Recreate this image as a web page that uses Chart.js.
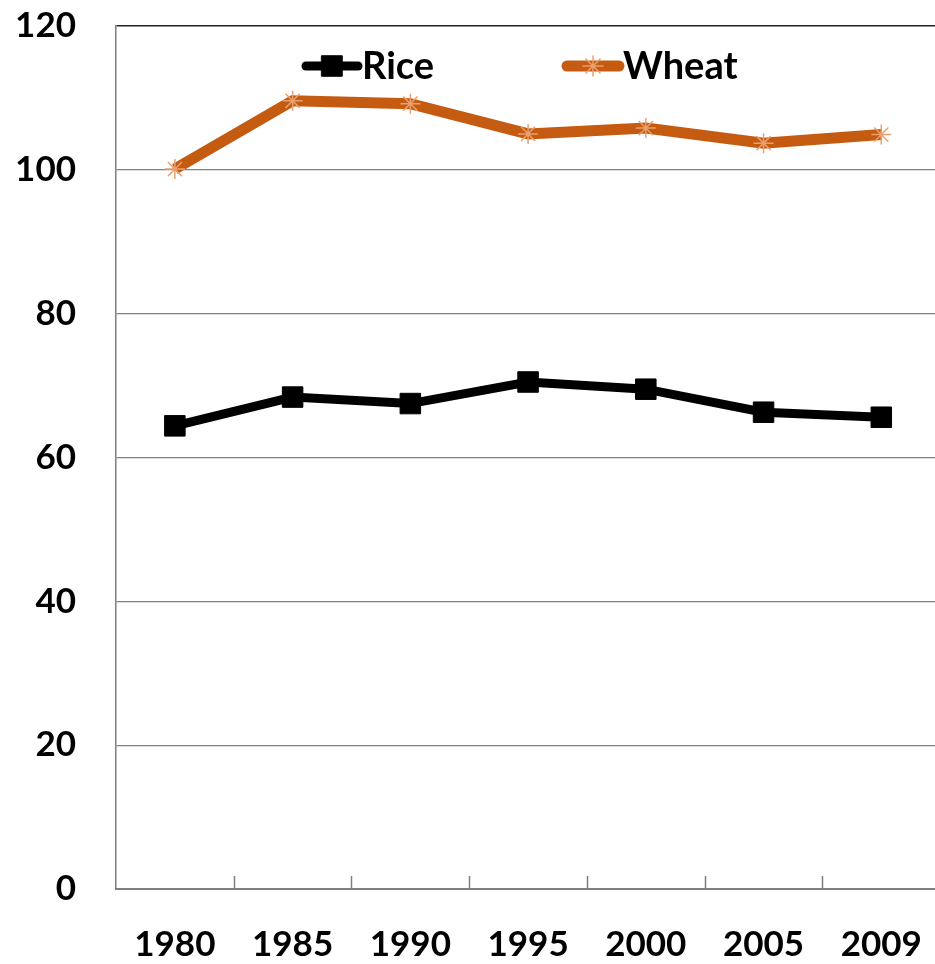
<!DOCTYPE html>
<html>
<head>
<meta charset="utf-8">
<script src="https://cdn.jsdelivr.net/npm/chart.js@4/dist/chart.umd.min.js"></script>
<style>
  html, body { margin: 0; padding: 0; background: #fff; overflow: hidden; }
  #wrap { width: 958px; height: 964px; }
</style>
</head>
<body>
<div id="wrap"><canvas id="chart" width="958" height="964"></canvas></div>
<script>
const years = ['1980', '1985', '1990', '1995', '2000', '2005', '2009'];
const rice = [64.4, 68.4, 67.5, 70.5, 69.5, 66.3, 65.6];
const wheat = [100.1, 109.6, 109.2, 105.0, 105.8, 103.7, 104.9];
const yTicks = [0, 20, 40, 60, 80, 100, 120];

const FONT = 'Lato, "DejaVu Sans", sans-serif';

// legend drawn inside the plot, at the top
const insideLegend = {
    id: 'insideLegend',
    afterDatasetsDraw(chart) {
        const ctx = chart.ctx;
        const spots = [{ x: 302, y: 66 }, { x: 563, y: 66 }];
        chart.data.datasets.forEach((ds, i) => {
            const s = spots[i];
            ctx.save();
            ctx.strokeStyle = ds.borderColor;
            ctx.lineWidth = ds.borderWidth;
            ctx.lineCap = 'round';
            ctx.beginPath();
            ctx.moveTo(s.x + 4, s.y);
            ctx.lineTo(s.x + 56, s.y);
            ctx.stroke();
            ctx.fillStyle = ds.pointBackgroundColor;
            ctx.strokeStyle = ds.pointBorderColor;
            ctx.lineWidth = ds.pointBorderWidth;
            Chart.helpers.drawPoint(ctx, { pointStyle: ds.pointStyle, radius: ds.pointRadius, rotation: 0, borderWidth: ds.pointBorderWidth }, s.x + 30, s.y);
            ctx.fillStyle = '#000';
            ctx.font = 'bold 38px ' + FONT;
            ctx.textAlign = 'left';
            ctx.textBaseline = 'middle';
            ctx.fillText(ds.label, s.x + 60, s.y + 1);
            ctx.restore();
        });
    }
};

// category ticks pointing up into the plot, like the original
const upTicks = {
    id: 'upTicks',
    afterDraw(chart) {
        const x = chart.scales.x;
        const ctx = chart.ctx;
        const bottom = chart.chartArea.bottom;
        ctx.save();
        ctx.strokeStyle = '#7f7f7f';
        ctx.lineWidth = 1.5;
        for (let i = 1; i < years.length; i++) {
            const px = Math.round((x.getPixelForValue(i - 1) + x.getPixelForValue(i)) / 2) + 0.5;
            ctx.beginPath();
            ctx.moveTo(px, bottom - 13);
            ctx.lineTo(px, bottom);
            ctx.stroke();
        }
        ctx.restore();
    }
};

new Chart(document.getElementById('chart'), {
    type: 'line',
    data: {
        labels: years,
        datasets: [{
            label: 'Rice',
            data: rice,
            borderColor: '#000000',
            borderWidth: 9,
            pointStyle: 'rect',
            pointRadius: 14.5,
            pointBackgroundColor: '#000000',
            pointBorderColor: '#000000',
            pointBorderWidth: 1,
            tension: 0
        }, {
            label: 'Wheat',
            data: wheat,
            borderColor: '#C55A11',
            borderWidth: 11,
            pointStyle: 'star',
            pointRadius: 10,
            pointBackgroundColor: '#F4B183',
            pointBorderColor: '#E9A06E',
            pointBorderWidth: 1.5,
            tension: 0
        }]
    },
    options: {
        responsive: false,
        animation: false,
        layout: { padding: { top: 26, right: 0, left: 0, bottom: 0 } },
        plugins: { legend: { display: false }, tooltip: { enabled: false } },
        scales: {
            x: {
                offset: true,
                grid: { display: false, drawTicks: false },
                border: { display: true, color: '#7f7f7f', width: 2 },
                ticks: {
                    color: '#000',
                    padding: 35,
                    maxRotation: 0,
                    font: { family: FONT, size: 35, weight: 'bold' }
                },
                afterFit(scale) { scale.height = 75; }
            },
            y: {
                min: 0,
                max: 120,
                afterBuildTicks(scale) { scale.ticks = yTicks.map(v => ({ value: v })); },
                grid: {
                    drawTicks: false,
                    color: ctx => ctx.tick && ctx.tick.value === 120 ? '#222' : '#808080',
                    lineWidth: ctx => ctx.tick && ctx.tick.value === 120 ? 1.5 : 1.2
                },
                border: { display: true, color: '#7f7f7f', width: 1.5 },
                ticks: {
                    color: '#000',
                    padding: 40,
                    font: { family: FONT, size: 35, weight: 'bold' }
                },
                afterFit(scale) {
                    scale.width = 116;
                    scale.paddingTop = 0;
                    scale.paddingBottom = 0;
                }
            }
        }
    },
    plugins: [insideLegend, upTicks]
});
</script>
</body>
</html>
